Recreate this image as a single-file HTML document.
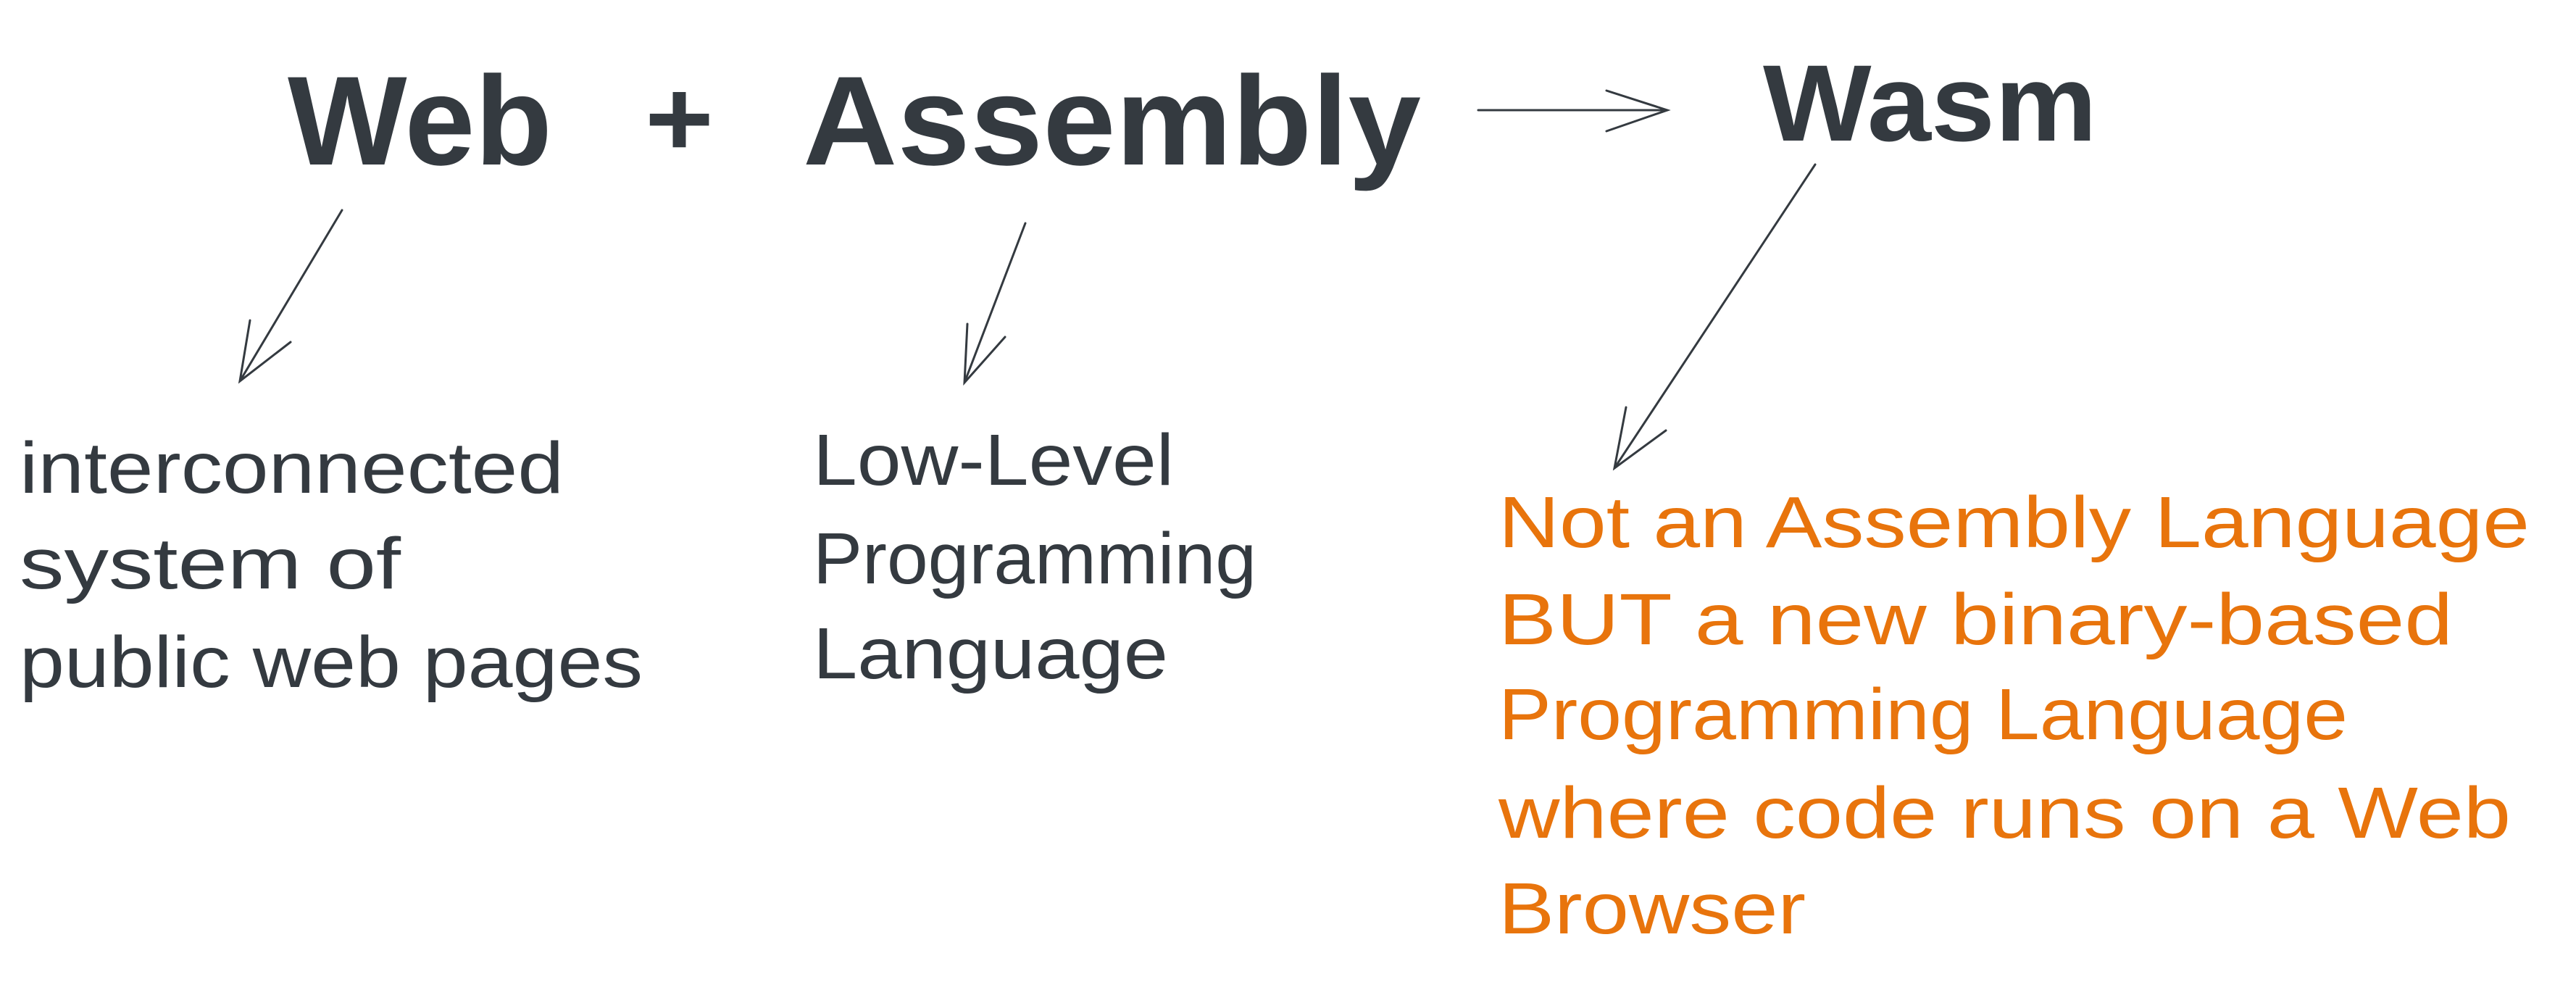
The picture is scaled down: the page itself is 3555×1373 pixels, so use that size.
<!DOCTYPE html>
<html><head><meta charset="utf-8"><style>html,body{margin:0;padding:0;background:#fff}svg{display:block}</style></head>
<body>
<svg width="3555" height="1373" viewBox="0 0 3555 1373" xmlns="http://www.w3.org/2000/svg">
<rect width="3555" height="1373" fill="#fff"/>
<g font-family="Liberation Sans, sans-serif" fill="#343a40">
<text x="397" y="227" font-size="175" font-weight="bold" textLength="365" lengthAdjust="spacingAndGlyphs">Web</text>
<text x="890" y="215" font-size="150" font-weight="bold" textLength="95" lengthAdjust="spacingAndGlyphs">+</text>
<text x="1108" y="227" font-size="175" font-weight="bold" textLength="853" lengthAdjust="spacingAndGlyphs">Assembly</text>
<text x="2433" y="194" font-size="150" font-weight="bold" textLength="461" lengthAdjust="spacingAndGlyphs">Wasm</text>
<g font-size="100">
<text x="27" y="680" textLength="751" lengthAdjust="spacingAndGlyphs">interconnected</text>
<text x="27" y="812" textLength="526" lengthAdjust="spacingAndGlyphs">system of</text>
<text x="27" y="948" textLength="860" lengthAdjust="spacingAndGlyphs">public web pages</text>
<text x="1122" y="669" textLength="498" lengthAdjust="spacingAndGlyphs">Low-Level</text>
<text x="1122" y="805" textLength="612" lengthAdjust="spacingAndGlyphs">Programming</text>
<text x="1122" y="936" textLength="490" lengthAdjust="spacingAndGlyphs">Language</text>
</g>
<g font-size="100" fill="#e8740c">
<text x="2068" y="755" textLength="1423" lengthAdjust="spacingAndGlyphs">Not an Assembly Language</text>
<text x="2068" y="889" textLength="1317" lengthAdjust="spacingAndGlyphs">BUT a new binary-based</text>
<text x="2068" y="1020" textLength="1172" lengthAdjust="spacingAndGlyphs">Programming Language</text>
<text x="2068" y="1156" textLength="1397" lengthAdjust="spacingAndGlyphs">where code runs on a Web</text>
<text x="2068" y="1288" textLength="424" lengthAdjust="spacingAndGlyphs">Browser</text>
</g>
</g>
<g stroke="#343a40" stroke-width="3" fill="none" stroke-linecap="round">
<path d="M2040 152 L2301 152 M2217 125 L2301 152 L2217 181"/>
<path d="M472 290 L331 526 M345 442 L331 526 L401 472"/>
<path d="M1415 308 L1331 528 M1335 447 L1331 528 L1387 465"/>
<path d="M2505 227 L2228 646 M2244 562 L2228 646 L2299 594"/>
</g>
</svg>
</body></html>
